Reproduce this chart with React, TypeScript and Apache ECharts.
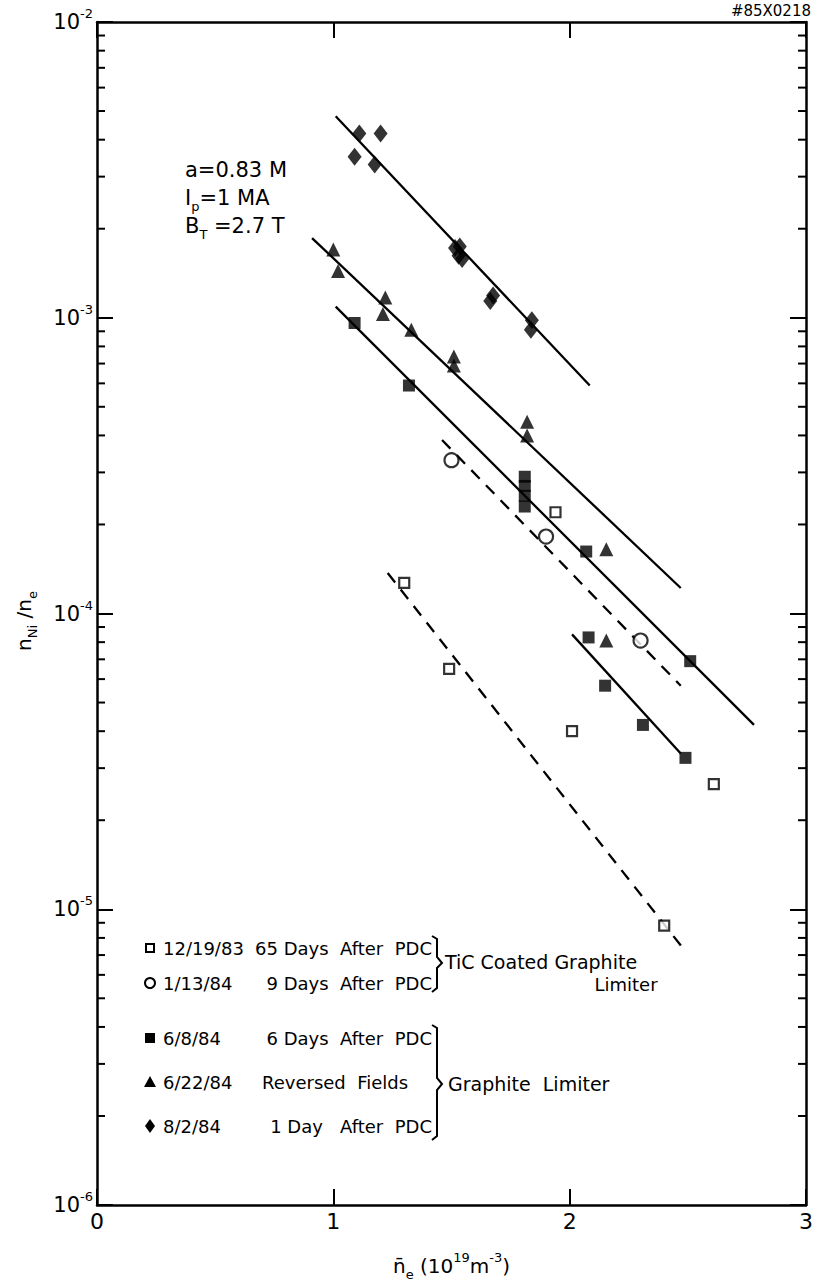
import React, { useEffect, useRef } from "react";
import * as echarts from "echarts";

const FONT = "DejaVu Sans";

// axis
const xMin = 0;
const xMax = 3;
const yMin = 1e-6;
const yMax = 1e-2;
const minorTickValues = [
  2e-6, 3e-6, 4e-6, 5e-6, 6e-6, 7e-6, 8e-6, 9e-6,
  2e-5, 3e-5, 4e-5, 5e-5, 6e-5, 7e-5, 8e-5, 9e-5,
  2e-4, 3e-4, 4e-4, 5e-4, 6e-4, 7e-4, 8e-4, 9e-4,
  2e-3, 3e-3, 4e-3, 5e-3, 6e-3, 7e-3, 8e-3, 9e-3,
];

// 12/19/83  65 Days After PDC (open squares)
const d121983X = [1.30, 1.49, 1.94, 2.01, 2.61, 2.40];
const d121983Y = [1.27e-4, 6.5e-5, 2.2e-4, 4.0e-5, 2.65e-5, 8.8e-6];
const fit121983X = [1.23, 2.49];
const fit121983Y = [1.37e-4, 7.2e-6];

// 1/13/84  9 Days After PDC (open circles)
const d11384X = [1.50, 1.90, 2.30];
const d11384Y = [3.3e-4, 1.82e-4, 8.1e-5];
const fit11384X = [1.46, 2.47];
const fit11384Y = [3.86e-4, 5.7e-5];

// 6/8/84  6 Days After PDC (filled squares)
const d6884X = [1.09, 1.32, 1.81, 1.81, 1.81, 1.81, 2.07, 2.08, 2.15, 2.31, 2.49, 2.51];
const d6884Y = [9.6e-4, 5.9e-4, 2.9e-4, 2.7e-4, 2.5e-4, 2.3e-4, 1.62e-4, 8.3e-5, 5.7e-5, 4.2e-5, 3.25e-5, 6.9e-5];
const fit6884X = [1.01, 2.78];
const fit6884Y = [1.09e-3, 4.2e-5];
const fit6884bX = [2.01, 2.47];
const fit6884bY = [8.5e-5, 3.36e-5];

// 6/22/84  Reversed Fields (triangles)
const d62284X = [1.00, 1.02, 1.22, 1.21, 1.33, 1.51, 1.51, 1.82, 1.82, 2.155, 2.155];
const d62284Y = [1.70e-3, 1.44e-3, 1.17e-3, 1.03e-3, 9.1e-4, 7.4e-4, 6.9e-4, 4.45e-4, 4.0e-4, 1.65e-4, 8.1e-5];
const fit62284X = [0.91, 2.47];
const fit62284Y = [1.86e-3, 1.22e-4];

// 8/2/84  1 Day After PDC (diamonds)
const d8284X = [1.11, 1.20, 1.09, 1.175, 1.515, 1.535, 1.53, 1.545, 1.676, 1.664, 1.84, 1.836];
const d8284Y = [4.2e-3, 4.2e-3, 3.5e-3, 3.3e-3, 1.72e-3, 1.74e-3, 1.62e-3, 1.58e-3, 1.19e-3, 1.14e-3, 9.8e-4, 9.1e-4];
const fit8284X = [1.01, 2.085];
const fit8284Y = [4.8e-3, 5.9e-4];

const legendDates = ["12/19/83", "1/13/84", "6/8/84", "6/22/84", "8/2/84"];
const legendDescs = ["65\u00a0Days\u00a0\u00a0After\u00a0\u00a0PDC", "9\u00a0Days\u00a0\u00a0After\u00a0\u00a0PDC", "6\u00a0Days\u00a0\u00a0After\u00a0\u00a0PDC", "Reversed\u00a0\u00a0Fields", "1\u00a0Day\u00a0\u00a0\u00a0After\u00a0\u00a0PDC"];

const zip = (xs: number[], ys: number[]) => xs.map((x, i) => [x, ys[i]]);

const baseRich = {
  b: { fontSize: 21, fontFamily: FONT, color: "#000", lineHeight: 30, verticalAlign: "middle" },
  s: { fontSize: 13, fontFamily: FONT, color: "#000", lineHeight: 14, verticalAlign: "top" },
  u: { fontSize: 13, fontFamily: FONT, color: "#000", lineHeight: 12, verticalAlign: "bottom" },
};

export default function App() {
  const ref = useRef<HTMLDivElement>(null);
  useEffect(() => {
    if (!ref.current) return;
    const chart = echarts.init(ref.current, undefined, { renderer: "svg" });

    const axisLine = { show: true, onZero: false, lineStyle: { color: "#000", width: 2.5 } };
    const axisTick = { show: true, inside: true, length: 16, lineStyle: { color: "#000", width: 2 } };

    const scatter = (name: string, data: number[][], symbol: string, size: any, filled: boolean) => ({
      name,
      type: "scatter",
      data,
      symbol,
      symbolSize: size,
      itemStyle: filled
        ? { color: "#000", borderColor: "#000", borderWidth: 0 }
        : { color: "#fff", borderColor: "#000", borderWidth: 2.2 },
      z: 5,
    });
    const fit = (data: number[][], dashed: boolean) => ({
      type: "line",
      data,
      symbol: "none",
      silent: true,
      lineStyle: { color: "#000", width: 2.3, type: dashed ? [12, 9] : "solid" },
      z: 3,
    });

    const rowY = [948, 983, 1038, 1082, 1126];
    const symX = 150;
    const legendSyms: any[] = [
      { type: "rect", shape: { x: symX - 4, y: rowY[0] - 4, width: 8, height: 8 }, style: { fill: "#fff", stroke: "#000", lineWidth: 2 } },
      { type: "circle", shape: { cx: symX, cy: rowY[1], r: 5 }, style: { fill: "#fff", stroke: "#000", lineWidth: 2 } },
      { type: "rect", shape: { x: symX - 5, y: rowY[2] - 5, width: 10, height: 10 }, style: { fill: "#000" } },
      { type: "polygon", shape: { points: [[symX, rowY[3] - 6], [symX + 6, rowY[3] + 5], [symX - 6, rowY[3] + 5]] }, style: { fill: "#000" } },
      { type: "polygon", shape: { points: [[symX, rowY[4] - 7], [symX + 5, rowY[4]], [symX, rowY[4] + 7], [symX - 5, rowY[4]]] }, style: { fill: "#000" } },
    ];
    const legendTexts: any[] = [];
    legendDates.forEach((d, i) => {
      legendTexts.push({
        type: "text",
        x: 163,
        y: rowY[i],
        style: { text: d, fontSize: 18, fontFamily: FONT, fill: "#000", textVerticalAlign: "middle", textAlign: "left" },
      });
      const isRev = i === 3;
      legendTexts.push({
        type: "text",
        x: isRev ? 262 : 432,
        y: rowY[i],
        style: { text: legendDescs[i], fontSize: 18, fontFamily: FONT, fill: "#000", textVerticalAlign: "middle", textAlign: isRev ? "left" : "right" },
      });
    });

    const bracketStyle = { stroke: "#000", lineWidth: 2, fill: "none" };

    chart.setOption({
      animation: false,
      grid: { left: 97, top: 22, width: 714, height: 1197, containLabel: false },
      xAxis: [
        {
          type: "value",
          min: xMin,
          max: xMax,
          interval: 1,
          position: "bottom",
          axisLine,
          axisTick,
          splitLine: { show: false },
          axisLabel: { color: "#000", fontSize: 22, fontFamily: FONT, margin: 5 },
          name: "{b|n\u0304}{u|e}{b|\u00a0(10}{s|19}{b|m}{s|-3}{b|)}",
          nameLocation: "middle",
          nameGap: 46,
          nameTextStyle: { rich: { ...baseRich, b: { ...baseRich.b, fontSize: 20 } } },
        },
        {
          type: "value",
          min: xMin,
          max: xMax,
          interval: 1,
          position: "top",
          axisLine,
          axisTick,
          splitLine: { show: false },
          axisLabel: { show: false },
        },
      ],
      yAxis: [
        {
          type: "log",
          logBase: 10,
          min: yMin,
          max: yMax,
          position: "left",
          axisLine,
          axisTick,
          splitLine: { show: false },
          axisLabel: {
            margin: 4,
            formatter: (v: number) => `{b|10}{s|${Math.round(Math.log10(v))}}`,
            rich: baseRich,
          },
        },
        {
          type: "log",
          logBase: 10,
          min: yMin,
          max: yMax,
          position: "right",
          axisLine,
          axisTick,
          splitLine: { show: false },
          axisLabel: { show: false },
        },
      ],
      series: [
        {
          type: "custom",
          data: minorTickValues.map((v) => [0, v]),
          silent: true,
          clip: false,
          renderItem: (params: any, api: any) => {
            const v = api.value(1);
            const pL = api.coord([xMin, v]);
            const pR = api.coord([xMax, v]);
            return {
              type: "group",
              children: [
                { type: "line", shape: { x1: pL[0], y1: pL[1], x2: pL[0] + 8, y2: pL[1] }, style: { stroke: "#000", lineWidth: 2 } },
                { type: "line", shape: { x1: pR[0] - 8, y1: pR[1], x2: pR[0], y2: pR[1] }, style: { stroke: "#000", lineWidth: 2 } },
              ],
            };
          },
        },
        fit(zip(fit121983X, fit121983Y), true),
        fit(zip(fit11384X, fit11384Y), true),
        fit(zip(fit6884X, fit6884Y), false),
        fit(zip(fit6884bX, fit6884bY), false),
        fit(zip(fit62284X, fit62284Y), false),
        fit(zip(fit8284X, fit8284Y), false),
        scatter("12/19/83", zip(d121983X, d121983Y), "rect", 10, false),
        scatter("1/13/84", zip(d11384X, d11384Y), "circle", 14, false),
        scatter("6/8/84", zip(d6884X, d6884Y), "rect", 12, true),
        scatter("6/22/84", zip(d62284X, d62284Y), "triangle", 14, true),
        scatter("8/2/84", zip(d8284X, d8284Y), "diamond", [14, 18], true),
      ],
      graphic: [
        {
          type: "text",
          x: 24,
          y: 621,
          rotation: Math.PI / 2,
          style: {
            text: "{b|n}{u|Ni}{b|\u00a0/n}{u|e}",
            rich: { ...baseRich, b: { ...baseRich.b, fontSize: 20 }, u: { ...baseRich.u, fontSize: 13 } },
            textAlign: "center",
            textVerticalAlign: "middle",
          },
        },
        {
          type: "text",
          x: 811,
          y: 11,
          style: { text: "#85X0218", fontSize: 15, fontFamily: FONT, fill: "#000", textAlign: "right", textVerticalAlign: "middle" },
        },
        {
          type: "text",
          x: 185,
          y: 170,
          style: { text: "a=0.83\u00a0M", fontSize: 21, fontFamily: FONT, fill: "#000", textVerticalAlign: "middle" },
        },
        {
          type: "text",
          x: 185,
          y: 198,
          style: {
            text: "{b|I}{u|p}{b|=1\u00a0MA}",
            rich: { ...baseRich, b: { ...baseRich.b, fontSize: 21 } },
            textVerticalAlign: "middle",
          },
        },
        {
          type: "text",
          x: 185,
          y: 226,
          style: {
            text: "{b|B}{u|T}{b|\u00a0=2.7\u00a0T}",
            rich: { ...baseRich, b: { ...baseRich.b, fontSize: 21 } },
            textVerticalAlign: "middle",
          },
        },
        ...legendSyms,
        ...legendTexts,
        {
          type: "polyline",
          shape: { points: [[432, 936], [437, 939], [437, 957], [442, 963], [437, 968], [437, 988], [432, 992]] },
          style: bracketStyle,
        },
        {
          type: "polyline",
          shape: { points: [[432, 1025], [437, 1028], [437, 1078], [442, 1084], [437, 1090], [437, 1136], [432, 1140]] },
          style: bracketStyle,
        },
        {
          type: "text",
          x: 445,
          y: 962,
          style: { text: "TiC\u00a0Coated\u00a0Graphite", fontSize: 19, fontFamily: FONT, fill: "#000", textVerticalAlign: "middle" },
        },
        {
          type: "text",
          x: 626,
          y: 984,
          style: { text: "Limiter", fontSize: 18, fontFamily: FONT, fill: "#000", textAlign: "center", textVerticalAlign: "middle" },
        },
        {
          type: "text",
          x: 448,
          y: 1084,
          style: { text: "Graphite\u00a0\u00a0Limiter", fontSize: 19, fontFamily: FONT, fill: "#000", textVerticalAlign: "middle" },
        },
      ],
    });
    return () => chart.dispose();
  }, []);

  return <div ref={ref} style={{ position: "fixed", left: 0, top: 0, width: 816, height: 1286, background: "#fff" }} />;
}
